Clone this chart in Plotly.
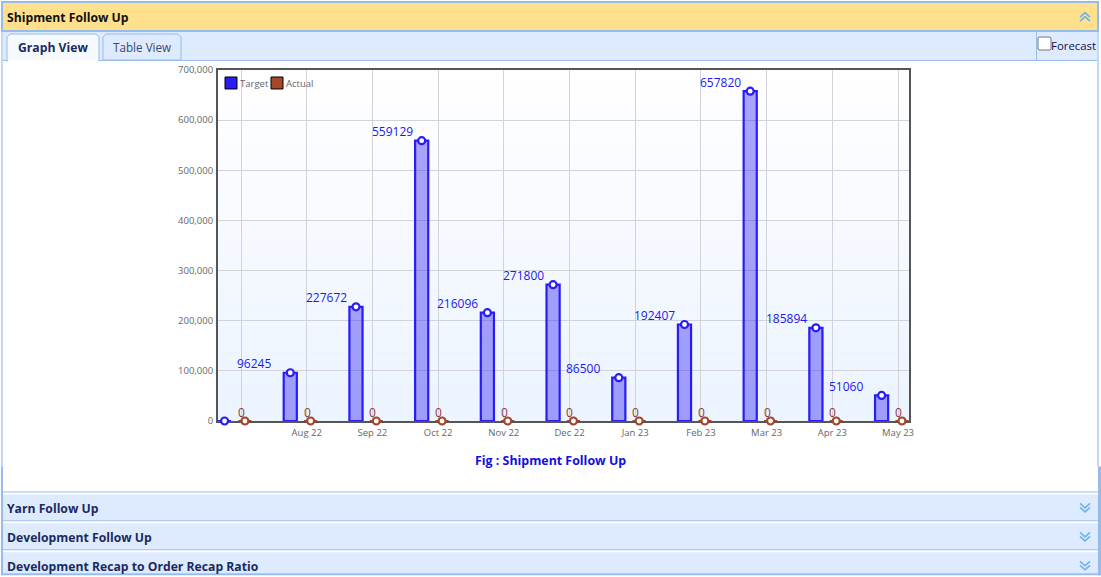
import plotly.graph_objects as go

months = ['', 'Aug 22', 'Sep 22', 'Oct 22', 'Nov 22', 'Dec 22', 'Jan 23', 'Feb 23', 'Mar 23', 'Apr 23', 'May 23']
target = [0, 96245, 227672, 559129, 216096, 271800, 86500, 192407, 657820, 185894, 51060]
actual = [0, 0, 0, 0, 0, 0, 0, 0, 0, 0, 0]
y_ticks = [0, 100000, 200000, 300000, 400000, 500000, 600000, 700000]

section_titles = ['Yarn Follow Up', 'Development Follow Up', 'Development Recap to Order Recap Ratio']

BLUE = '#2a1cf5'
BROWN = '#a5462a'
BORDER = '#97bbea'
PANEL = '#deeafd'
CHEVRON = '#6db3ee'
FONT = 'Open Sans'

# plot box in page pixels
LEFT, RIGHT, TOP, BOTTOM = 218, 909, 70, 421.5


def px_x(x):
    return (x - LEFT) / (RIGHT - LEFT)


def px_y(y):
    return (BOTTOM - y) / (BOTTOM - TOP)


def rect(x0, y0, x1, y1, fill, line=None, width=1):
    return dict(type='rect', xref='paper', yref='paper', layer='below',
                x0=px_x(x0), x1=px_x(x1), y0=px_y(y0), y1=px_y(y1),
                fillcolor=fill, line=dict(color=line or fill, width=width if line else 0))


def poly(points, fill=None, line=None, width=1, close=True):
    d = 'M' + ' L'.join(f'{px_x(a):.5f},{px_y(b):.5f}' for a, b in points) + (' Z' if close else '')
    return dict(type='path', xref='paper', yref='paper', layer='below', path=d,
                fillcolor=fill or 'rgba(0,0,0,0)', line=dict(color=line or 'rgba(0,0,0,0)', width=width))


def chevrons(cx, cy, up=False):
    s = -1 if up else 1
    out = []
    for dy in (-4, 0):
        pts = [(cx - 5, cy + s * dy), (cx, cy + s * (dy + 4.5)), (cx + 5, cy + s * dy)]
        out.append(poly(pts, line=CHEVRON, width=1.6, close=False))
    return out


def label(x, y, text, size=12.2, color='#1a2a5e', bold=False, anchor='left'):
    return dict(xref='paper', yref='paper', x=px_x(x - 2 if anchor == 'left' else x), y=px_y(y),
                text=f'<b>{text}</b>' if bold else text,
                showarrow=False, xanchor=anchor, yanchor='middle', align=anchor,
                font=dict(family=FONT, size=size, color=color))


shapes = []
# gradient behind the plot
steps = 40
for i in range(steps):
    t = i / (steps - 1)
    col = f'rgb({int(255 - 19 * t)},{int(255 - 11 * t)},255)'
    y0 = TOP + (BOTTOM - TOP) * i / steps
    y1 = TOP + (BOTTOM - TOP) * (i + 1) / steps
    shapes.append(rect(LEFT, y0, RIGHT, y1, col))

# page frame
shapes += [
    rect(1, 1, 1099, 3, BORDER),
    rect(1, 3, 3, 31, BORDER),
    rect(1097, 3, 1099, 31, BORDER),
    rect(3, 3, 1097, 30, '#ffe08c'),
    rect(1, 30, 1099, 32, BORDER),
    rect(3, 32, 1097, 60, PANEL),
    rect(1, 60, 1099, 61, BORDER),
    rect(1, 32, 3, 467, '#c5d8f3'),
    rect(1097, 32, 1099, 467, '#c5d8f3'),
    rect(1036, 32, 1037, 60, BORDER),
    rect(1, 467, 3, 576, BORDER),
    rect(1098, 467, 1101, 576, BORDER),
    rect(3, 492, 1098, 493, BORDER),
    rect(3, 495, 1098, 521, PANEL),
    rect(3, 521, 1098, 522, BORDER),
    rect(3, 524, 1098, 550, PANEL),
    rect(3, 550, 1098, 551, BORDER),
    rect(3, 553, 1098, 574, PANEL),
    rect(1, 574, 1101, 576, BORDER),
]
# tabs
shapes.append(poly([(7, 61), (7, 37), (10, 34), (96, 34), (99, 37), (99, 61)], fill='#f6faff', line=BORDER))
shapes.append(rect(8, 60, 98, 62, '#ffffff'))
shapes.append(poly([(103, 60), (103, 37), (106, 34), (178, 34), (181, 37), (181, 60)], fill=PANEL, line=BORDER))
# checkbox
shapes.append(poly([(1039, 37), (1050, 37), (1051, 38), (1051, 49), (1050, 50), (1039, 50), (1038, 49), (1038, 38)],
                   fill='#ffffff', line='#767676'))
shapes += chevrons(1085, 17, up=True)
for cy in (508, 537, 566):
    shapes += chevrons(1085, cy)
# legend swatches
shapes.append(dict(rect(225, 77, 237, 89, BLUE, '#000000', 1), layer='above'))
shapes.append(dict(rect(271, 77, 283, 89, BROWN, '#000000', 1), layer='above'))

annotations = [
    label(7, 17, 'Shipment Follow Up', bold=True, color='#111111'),
    label(53, 47, 'Graph View', bold=True, anchor='center'),
    label(142, 47, 'Table View', size=11.7, color='#3a4a6e', anchor='center'),
    label(1051, 45, 'Forecast', size=11.4, color='#10104e'),
    label(240, 84, 'Target', size=9.5, color='#666666'),
    label(286, 84, 'Actual', size=9.5, color='#666666'),
    label(550, 461, 'Fig : Shipment Follow Up', size=12.4, color='#1010e0', bold=True, anchor='center'),
]
for title, y in zip(section_titles, (509, 538, 567)):
    annotations.append(label(7, y, title, bold=True))

idx = list(range(len(months)))
x_target = [i - 0.25 for i in idx]
x_actual = [i + 0.06 for i in idx]

# value labels sit up and to the left of each point
for x, v in zip(x_target, target):
    if v == 0:
        continue
    annotations.append(dict(x=x, y=v, xref='x', yref='y', text=str(v), showarrow=False,
                            xanchor='center', yanchor='middle', yshift=9,
                            xshift=-36 if v < 100000 else -29.5,
                            font=dict(family=FONT, size=12, color='#1a1af0')))
for x, v in zip(x_actual, actual):
    annotations.append(dict(x=x, y=v, xref='x', yref='y', text=str(v), showarrow=False,
                            xanchor='center', yanchor='middle', yshift=9, xshift=-3.5,
                            font=dict(family=FONT, size=12, color='#8b3a3a')))

fig = go.Figure()
fig.add_trace(go.Bar(name='Target', x=x_target, y=target, width=0.2,
                     marker=dict(color='rgba(42,28,245,0.4)', line=dict(color=BLUE, width=2.2))))
fig.add_trace(go.Bar(name='Actual', x=x_actual, y=actual, width=0.2,
                     marker=dict(color='rgba(165,70,42,0.4)', line=dict(color=BROWN, width=2.2))))
fig.add_trace(go.Scatter(name='Target', x=x_target, y=target, mode='markers', cliponaxis=False,
                         marker=dict(size=7, color='#ffffff', line=dict(color=BLUE, width=2.2))))
fig.add_trace(go.Scatter(name='Actual', x=x_actual, y=actual, mode='markers', cliponaxis=False,
                         marker=dict(size=7, color='#ffffff', line=dict(color=BROWN, width=2.2))))

fig.update_layout(
    width=1101, height=577, showlegend=False, barmode='overlay', autosize=False,
    margin=dict(l=LEFT, r=1101 - RIGHT, t=TOP, b=577 - BOTTOM, pad=0),
    paper_bgcolor='#ffffff', plot_bgcolor='rgba(0,0,0,0)',
    shapes=shapes, annotations=annotations,
    font=dict(family=FONT),
)
fig.update_xaxes(range=[-0.35, 10.167], tickmode='array', tickvals=idx, ticktext=months,
                 showgrid=True, gridcolor='#d2d2da', gridwidth=1, zeroline=False,
                 showline=True, mirror=True, linecolor='#555555', linewidth=2, layer='below traces',
                 ticks='outside', ticklen=2, tickcolor='rgba(0,0,0,0)',
                 tickfont=dict(family=FONT, size=9.5, color='#666666'))
fig.update_yaxes(range=[0, 700000], tickmode='array', tickvals=y_ticks, tickformat=',',
                 showgrid=True, gridcolor='#d2d2da', gridwidth=1, zeroline=False,
                 showline=True, mirror=True, linecolor='#555555', linewidth=2, layer='below traces',
                 ticks='outside', ticklen=1, tickcolor='rgba(0,0,0,0)',
                 tickfont=dict(family=FONT, size=9.5, color='#666666'))

fig.write_html("out.html", config={'displayModeBar': False},
               post_script="document.body.style.margin='0';document.body.style.overflow='hidden';")
